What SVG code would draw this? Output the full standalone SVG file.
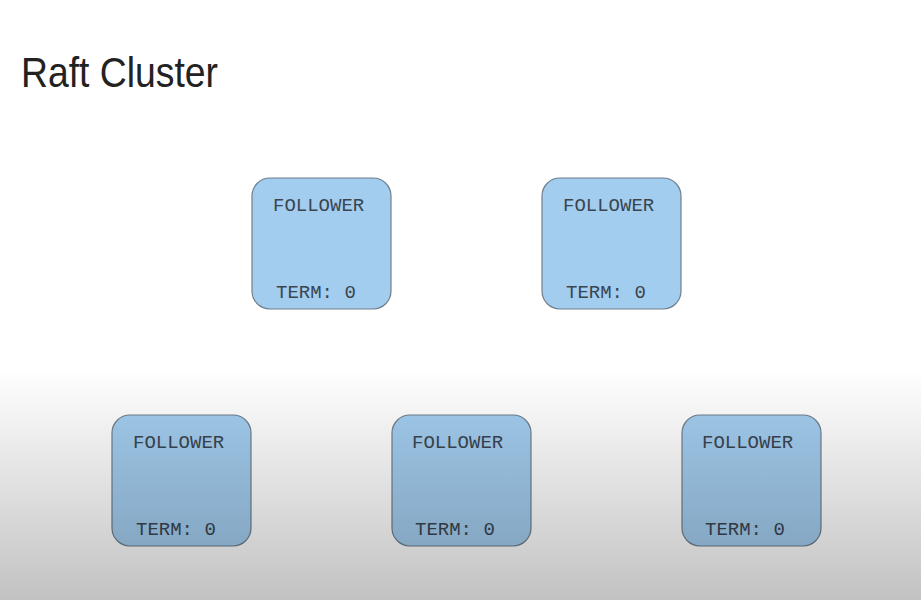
<svg xmlns="http://www.w3.org/2000/svg" width="921" height="600" viewBox="0 0 921 600">
<defs>
<linearGradient id="shade" x1="0" y1="0" x2="0" y2="1">
<stop offset="0" stop-color="#000" stop-opacity="0"/>
<stop offset="1" stop-color="#000" stop-opacity="0.24"/>
</linearGradient>
<style>
.node rect{fill:#a3cdef;stroke:#6f7f8c;stroke-width:1.2}
.node text{font-family:"Liberation Mono","Courier New",monospace;font-size:19px;fill:#3a4550}
.title{font-family:"Liberation Sans",Arial,sans-serif;font-size:43px;fill:#222}
</style>
</defs>
<rect x="0" y="0" width="921" height="600" fill="#fff"/>
<text class="title" x="21" y="87" textLength="197" lengthAdjust="spacingAndGlyphs">Raft Cluster</text>
<g id="connectors"></g>
<g id="node1" class="node"><rect x="252" y="178" width="139" height="131" rx="18"/><text x="273" y="211">FOLLOWER</text><text x="276" y="298">TERM: 0</text></g>
<g id="node2" class="node"><rect x="542" y="178" width="139" height="131" rx="18"/><text x="563" y="211">FOLLOWER</text><text x="566" y="298">TERM: 0</text></g>
<g id="node3" class="node"><rect x="112" y="415" width="139" height="131" rx="18"/><text x="133" y="448">FOLLOWER</text><text x="136" y="535">TERM: 0</text></g>
<g id="node4" class="node"><rect x="392" y="415" width="139" height="131" rx="18"/><text x="412" y="448">FOLLOWER</text><text x="415" y="535">TERM: 0</text></g>
<g id="node5" class="node"><rect x="682" y="415" width="139" height="131" rx="18"/><text x="702" y="448">FOLLOWER</text><text x="705" y="535">TERM: 0</text></g>
<rect x="0" y="370" width="921" height="230" fill="url(#shade)"/>
</svg>
